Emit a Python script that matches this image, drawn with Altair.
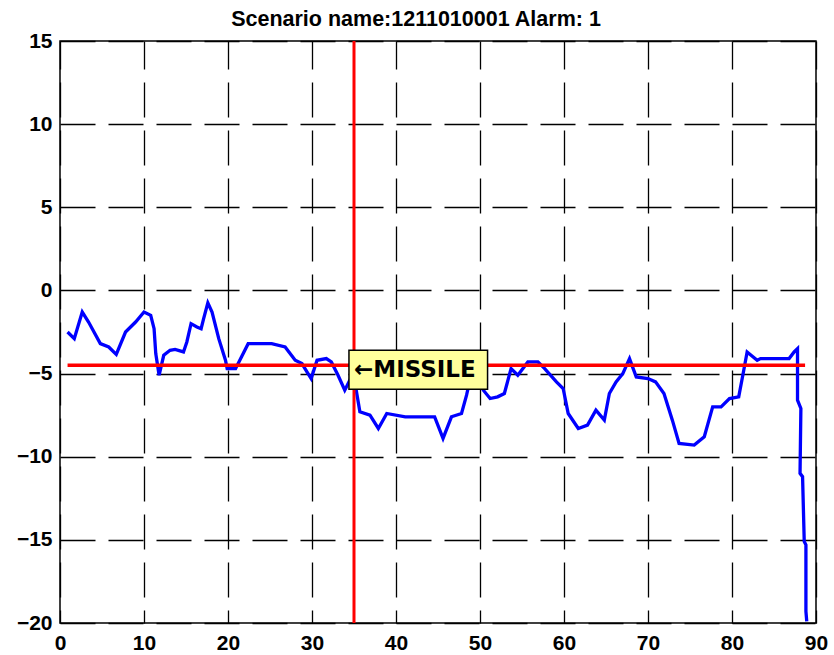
import altair as alt
import pandas as pd

# ---- data ----
x_vals = [0.9, 1.7, 2.65, 3.4, 4.8, 5.8, 6.7, 7.8, 9.0, 10.0, 10.8, 11.2, 11.4, 11.8,
          12.35, 13.1, 13.7, 14.7, 15.1, 15.6, 16.3, 16.8, 17.1, 17.6, 18.1, 18.9,
          19.7, 19.9, 20.9, 21.3, 22.4, 25.2, 26.8, 28.0, 28.8, 29.4, 29.9, 30.6,
          31.7, 32.3, 33.1, 33.9, 34.5, 35.2, 35.7, 36.9, 37.9, 38.9, 41.1, 44.6,
          45.6, 46.6, 47.8, 48.4, 48.8, 49.6, 50.4, 51.2, 52.1, 52.9, 53.7, 54.5,
          55.7, 56.9, 57.7, 59.1, 59.9, 60.5, 61.7, 62.8, 63.8, 64.8, 65.4, 66.2,
          67.0, 67.8, 68.6, 70.0, 70.9, 71.9, 72.9, 73.7, 75.5, 76.7, 77.7, 78.7,
          79.7, 80.8, 81.4, 81.8, 83.0, 83.4, 86.8, 87.4, 87.8, 87.8, 88.2, 88.1,
          88.4, 88.6, 88.8, 88.8, 88.9]
y_vals = [-2.5, -2.9, -1.3, -1.9, -3.2, -3.4, -3.85, -2.5, -1.9, -1.3, -1.5, -2.3, -3.8, -5.1,
          -3.9, -3.6, -3.55, -3.7, -3.1, -2.0, -2.2, -2.3, -1.7, -0.75, -1.3, -2.9,
          -4.2, -4.7, -4.7, -4.3, -3.2, -3.2, -3.4, -4.2, -4.4, -4.9, -5.3, -4.2,
          -4.1, -4.3, -5.1, -6.0, -5.4, -5.8, -7.3, -7.5, -8.3, -7.4, -7.6, -7.6,
          -8.9, -7.6, -7.4, -6.3, -5.4, -5.2, -6.0, -6.5, -6.4, -6.2, -4.7, -5.1,
          -4.3, -4.3, -4.7, -5.5, -5.9, -7.4, -8.3, -8.1, -7.2, -7.8, -6.2, -5.5,
          -5.0, -4.1, -5.2, -5.3, -5.5, -6.2, -7.8, -9.2, -9.3, -8.8, -7.0, -7.0,
          -6.5, -6.4, -4.8, -3.7, -4.2, -4.1, -4.1, -3.7, -3.5, -6.6, -7.1, -11.0,
          -11.2, -15.1, -15.3, -19.3, -19.9]

threshold_y = [-4.5]
threshold_x = [0.9]
threshold_x2 = [88.7]
marker_x = [35]
x_ticks = [0, 10, 20, 30, 40, 50, 60, 70, 80, 90]
y_ticks = [-20, -15, -10, -5, 0, 5, 10, 15]
title_text = "Scenario name:1211010001 Alarm: 1"
label_text = ["←MISSILE"]
label_x = [35]
label_y = [-4.8]
box_x = [34.4]
box_x2 = [50.9]
box_y = [-3.6]
box_y2 = [-5.95]

FONT = "Liberation Sans"
LFONT = "DejaVu Sans"

df = pd.DataFrame({"x": x_vals, "y": y_vals, "i": list(range(len(x_vals)))})
df_thr = pd.DataFrame({"x": threshold_x, "x2": threshold_x2, "y": threshold_y})
df_mark = pd.DataFrame({"x": marker_x})
df_box = pd.DataFrame({"x": box_x, "x2": box_x2, "y": box_y, "y2": box_y2})
df_lab = pd.DataFrame({"x": label_x, "y": label_y, "t": label_text})

xs = alt.Scale(domain=[0, 90], nice=False, zero=False)
ys = alt.Scale(domain=[-20, 15], nice=False, zero=False)

xaxis = alt.Axis(values=x_ticks, title=None, grid=True, gridDash=[35, 13], gridDashOffset=7,
                 gridColor="black", gridWidth=1.3, gridOpacity=1, ticks=False, domain=False,
                 labelFont=FONT, labelFontSize=21, labelFontWeight="bold", labelColor="black",
                 labelPadding=9, labelFlush=False)
yaxis = alt.Axis(values=y_ticks, title=None, grid=True, gridDash=[35, 13], gridDashOffset=0,
                 gridColor="black", gridWidth=1.3, gridOpacity=1, ticks=False, domain=False,
                 labelFont=FONT, labelFontSize=21, labelFontWeight="bold", labelColor="black",
                 labelPadding=8, labelFlush=False)

line = alt.Chart(df).mark_line(color="#0000FF", strokeWidth=3.3, clip=True).encode(
    x=alt.X("x:Q", scale=xs, axis=xaxis),
    y=alt.Y("y:Q", scale=ys, axis=yaxis),
    order="i:Q",
)

thr = alt.Chart(df_thr).mark_rule(color="#FF0000", strokeWidth=3.5).encode(
    x=alt.X("x:Q", scale=xs), x2="x2:Q", y=alt.Y("y:Q", scale=ys)
)

vline = alt.Chart(df_mark).mark_rule(color="#FF0000", strokeWidth=3).encode(
    x=alt.X("x:Q", scale=xs)
)

box = alt.Chart(df_box).mark_rect(fill="#FFFF9C", stroke="black", strokeWidth=1.5).encode(
    x=alt.X("x:Q", scale=xs), x2="x2:Q", y=alt.Y("y:Q", scale=ys), y2="y2:Q"
)

lab = alt.Chart(df_lab).mark_text(align="left", baseline="middle", font=LFONT, fontSize=23,
                                   fontWeight="bold", color="black").encode(
    x=alt.X("x:Q", scale=xs), y=alt.Y("y:Q", scale=ys), text="t:N"
)

chart = alt.layer(line, thr, vline, box, lab).properties(
    width=756, height=582,
    title=alt.TitleParams(title_text, font=FONT, fontSize=21.5, fontWeight="bold", color="black",
                          anchor="middle", offset=-22, dx=-22, baseline="bottom"),
    padding={"left": 60, "top": 41, "right": 18, "bottom": 32},
    autosize=alt.AutoSizeParams(type="none"),
    background="white",
).configure_view(stroke="black", strokeWidth=1.5)

chart.save("out.html", embed_options={"renderer": "svg", "actions": False})
